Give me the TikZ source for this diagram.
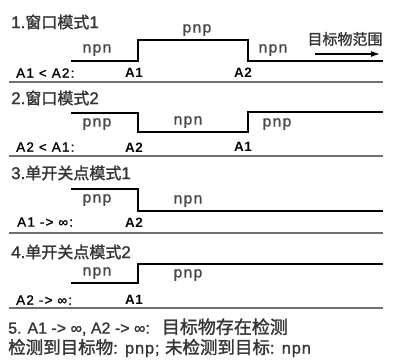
\documentclass[tikz,border=0pt]{standalone}
\usepackage{fontspec}
\setmainfont{Liberation Sans}[FakeBold=1.2]
\newfontfamily\cjk[FakeBold=1.5]{Noto Sans CJK SC}
\newfontfamily\lsp[LetterSpace=9,FakeBold=1.2]{Liberation Sans}
\newfontfamily\lsf[LetterSpace=5,FakeBold=1.2]{Liberation Sans}
\newfontfamily\lspb[LetterSpace=3]{Liberation Sans Bold}
\usetikzlibrary{arrows.meta}
\definecolor{txt}{HTML}{363636}
\definecolor{lbl}{HTML}{4A4A4A}
\definecolor{sepc}{HTML}{707070}
\tikzset{
  wave/.style={line width=2.2pt, black, line join=miter},
  sepline/.style={line width=1.3pt, sepc},
  title/.style={anchor=west, inner sep=0pt, text=txt, font=\fontsize{17}{17}\selectfont},
  sig/.style={inner sep=0pt, text=lbl, font=\lsp\fontsize{15.5}{16}\selectfont},
  cond/.style={anchor=west, inner sep=0pt, text=black, font=\lsp\fontsize{13.5}{14}\selectfont},
  edge/.style={inner sep=0pt, text=black, font=\lspb\fontsize{13.5}{14}\selectfont},
  foot/.style={anchor=west, inner sep=0pt, text=txt, font=\fontsize{16}{17}\selectfont},
  foottwo/.style={anchor=west, inner sep=0pt, text=txt, font=\lsf\fontsize{16.5}{17}\selectfont},
}
\newcommand{\zh}[2][16]{{\cjk\fontsize{#1}{#1}\selectfont #2}}
\begin{document}
\begin{tikzpicture}[x=1pt,y=-1pt]
\path[use as bounding box, fill=white] (0,0) rectangle (401,360);
% Section 1
\node[title] (t1) at (11,22) {1.\zh{窗口模式}1};
\coordinate (w1a) at (71,61); \coordinate (w1b) at (138,61); \coordinate (w1c) at (138,40);
\coordinate (w1d) at (248,40); \coordinate (w1e) at (248,61); \coordinate (w1f) at (383,61);
\draw[wave] (w1a) -- (w1b) -- (w1c) -- (w1d) -- (w1e) -- (w1f);
\node[sig] (s1a) at (97,50) {npn};
\node[sig] (s1b) at (197,30) {pnp};
\node[sig] (s1c) at (273,50) {npn};
\node[inner sep=0pt, text=txt] (tg) at (345,39) {\zh[15]{目标物范围}};
\coordinate (ar1) at (315,54); \coordinate (ar2) at (380,54);
\draw[line width=1.4pt, -{Latex[length=9pt,width=6pt]}] (ar1) -- (ar2);
\node[cond] (c1) at (16,73) {A1 < A2:};
\node[edge] (e1a) at (134,73) {A1};
\node[edge] (e1b) at (243,73) {A2};
\coordinate (l1a) at (9,82); \coordinate (l1b) at (383,82);
\draw[sepline] (l1a) -- (l1b);
% Section 2
\node[title] (t2) at (11,98) {2.\zh{窗口模式}2};
\coordinate (w2a) at (71,113); \coordinate (w2b) at (138,113); \coordinate (w2c) at (138,132);
\coordinate (w2d) at (248,132); \coordinate (w2e) at (248,112); \coordinate (w2f) at (383,112);
\draw[wave] (w2a) -- (w2b) -- (w2c) -- (w2d) -- (w2e) -- (w2f);
\node[sig] (s2a) at (97,124) {pnp};
\node[sig] (s2b) at (188,122) {npn};
\node[sig] (s2c) at (277,124) {pnp};
\node[cond] (c2) at (16,147) {A2 < A1:};
\node[edge] (e2a) at (134,148) {A2};
\node[edge] (e2b) at (243,147) {A1};
\coordinate (l2a) at (9,156); \coordinate (l2b) at (383,156);
\draw[sepline] (l2a) -- (l2b);
% Section 3
\node[title] (t3) at (11,173) {3.\zh{单开关点模式}1};
\coordinate (w3a) at (71,189); \coordinate (w3b) at (138,189); \coordinate (w3c) at (138,211);
\coordinate (w3d) at (383,211);
\draw[wave] (w3a) -- (w3b) -- (w3c) -- (w3d);
\node[sig] (s3a) at (97,200) {pnp};
\node[sig] (s3b) at (188,201) {npn};
\node[cond] (c3) at (17,222) {A1 -> ∞:};
\node[edge] (e3a) at (134,223) {A2};
\coordinate (l3a) at (9,233); \coordinate (l3b) at (383,233);
\draw[sepline] (l3a) -- (l3b);
% Section 4
\node[title] (t4) at (11,252) {4.\zh{单开关点模式}2};
\coordinate (w4a) at (71,283); \coordinate (w4b) at (138,283); \coordinate (w4c) at (138,264);
\coordinate (w4d) at (383,264);
\draw[wave] (w4a) -- (w4b) -- (w4c) -- (w4d);
\node[sig] (s4a) at (97,273) {npn};
\node[sig] (s4b) at (188,275) {pnp};
\node[cond] (c4) at (16,300) {A2 -> ∞:};
\node[edge] (e4a) at (134,300) {A1};
\coordinate (l4a) at (9,308); \coordinate (l4b) at (383,308);
\draw[sepline] (l4a) -- (l4b);
% Section 5
\node[foot] (f1) at (8,327) {5. A1 -> ∞, A2 -> ∞:\hspace*{12pt}\zh[18]{目标物存在检测}};
\node[foottwo] (f2) at (8,348) {\zh[17.5]{检测到目标物}: pnp; \zh[17.5]{未检测到目标}: npn};
\end{tikzpicture}
\end{document}
